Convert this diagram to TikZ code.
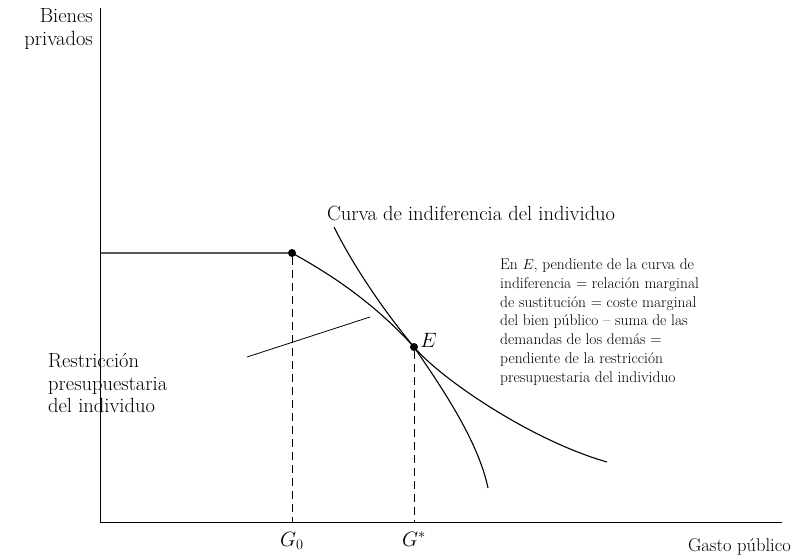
\documentclass[tikz,border=0pt]{standalone}
\usetikzlibrary{positioning}
\tikzset{axis/.style={line width=0.9pt},curve/.style={line width=1.1pt},guide/.style={dash pattern=on 8pt off 5pt,line width=0.6pt},dot/.style={circle,fill,inner sep=0pt,minimum size=8pt},lbl/.style={font=\fontsize{20.5}{22.5}\selectfont,inner sep=0pt},note/.style={font=\fontsize{15.5}{18.8}\selectfont,align=left,inner sep=0pt}}

\begin{document}
\begin{tikzpicture}[x=1pt,y=-1pt]
\useasboundingbox (0,0) rectangle (797,557);
% axes
\coordinate (o) at (100,522);
\coordinate (ytop) at (100,8);
\coordinate (xend) at (782,522);
\draw[axis] (ytop)--(o)--(xend);
\node[lbl,anchor=east,align=right] (ylab) at (93,29) {Bienes\\privados};
\node[lbl,anchor=east,font=\fontsize{18.5}{22}\selectfont] (xlab) at (791,547) {Gasto público};
% points
\node[dot] (g0pt) at (292,253) {};
\node[dot] (e) at (414,347) {};
\coordinate (yleft) at (100,253);
\coordinate (g0) at (292,522);
\coordinate (gs) at (414,522);
\node[lbl,below=10pt of g0] (g0lab) {$G_0$};
\node[lbl,below=10pt of gs] (gslab) {$G^*$};
\node[lbl,right=2pt of e,yshift=7pt] (elab) {$E$};
\draw[guide] (g0pt)--(g0);
\draw[guide] (e)--(gs);
% budget constraint and indifference curve
\coordinate (bend) at (488,488);
\coordinate (icstart) at (334,227);
\coordinate (icend) at (607,462);
\draw[curve] (yleft)--(g0pt.center) .. controls (332,275) and (374,303) .. (e.center) .. controls (440,385) and (478,440) .. (bend);
\draw[curve] (icstart) .. controls (354,267) and (384,311) .. (e.center) .. controls (440,378) and (530,440) .. (icend);
% labels
\node[lbl,anchor=west] (iclab) at (327,213) {Curva de indiferencia del individuo};
\node[lbl,anchor=west,align=left] (bclab) at (48,383) {Restricción\\presupuestaria\\del individuo};
\coordinate (ptrfoot) at (247,357);
\coordinate (ptr) at (370,317);
\draw[line width=0.8pt] (ptrfoot)--(ptr);
\node[note,anchor=west] (cond) at (500,322) {En $E$, pendiente de la curva de\\indiferencia = relación marginal\\de sustitución = coste marginal\\del bien público -- suma de las\\demandas de los demás =\\pendiente de la restricción\\presupuestaria del individuo};
\end{tikzpicture}
\end{document}
